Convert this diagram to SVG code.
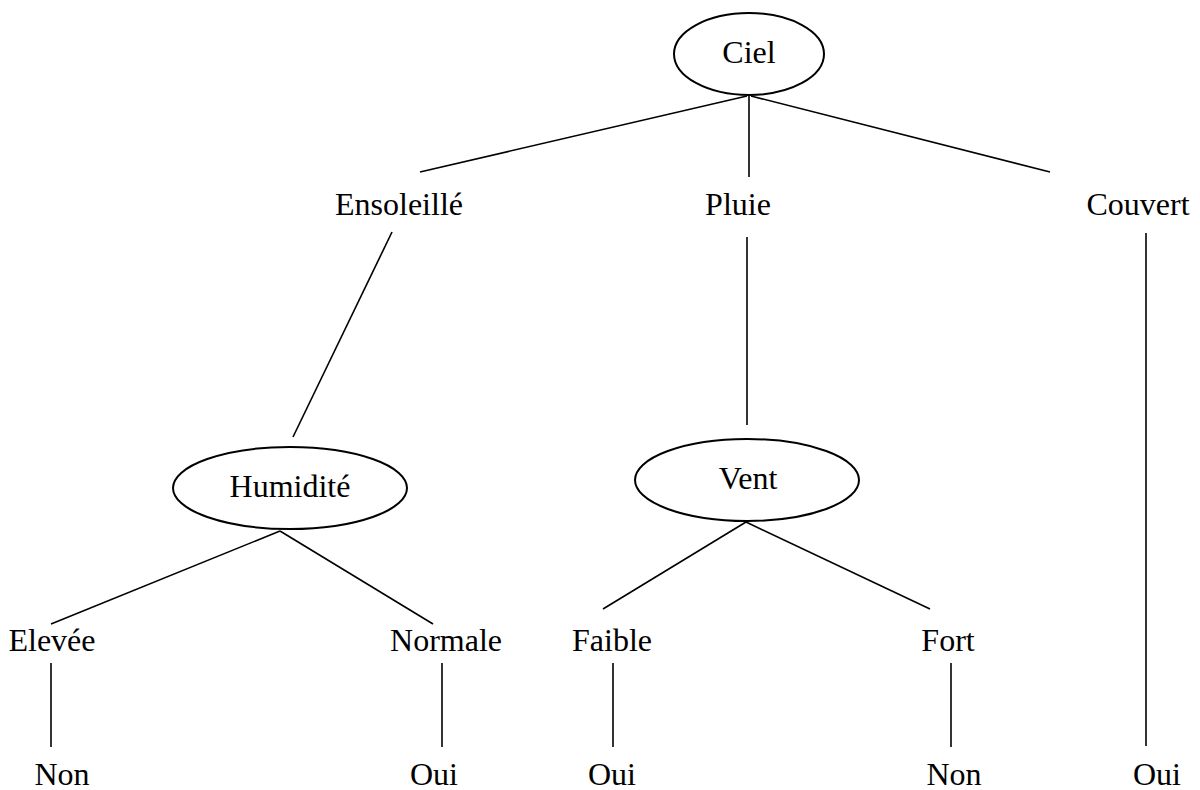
<svg xmlns="http://www.w3.org/2000/svg" width="1200" height="790" viewBox="0 0 1200 790">
<style>
.n ellipse{fill:#fff;stroke:#000;stroke-width:2}
text{font-family:"Liberation Serif","Times New Roman",serif;font-size:32px;fill:#000;text-anchor:middle}
#edges line{stroke:#000;stroke-width:1.6}
</style>
<rect width="1200" height="790" fill="#fff"/>
<g id="edges">
<line x1="747" y1="96" x2="420" y2="172"/>
<line x1="749" y1="96" x2="749" y2="177"/>
<line x1="751" y1="96" x2="1050" y2="172"/>
<line x1="392" y1="232" x2="293" y2="437"/>
<line x1="747" y1="237" x2="747" y2="425"/>
<line x1="1146" y1="233" x2="1146" y2="746"/>
<line x1="280" y1="531" x2="51" y2="624"/>
<line x1="280" y1="531" x2="433" y2="624"/>
<line x1="746" y1="522" x2="603" y2="609"/>
<line x1="746" y1="522" x2="930" y2="609"/>
<line x1="51" y1="663" x2="51" y2="747"/>
<line x1="442" y1="663" x2="442" y2="747"/>
<line x1="613" y1="663" x2="613" y2="747"/>
<line x1="951" y1="663" x2="951" y2="747"/>
</g>
<g id="ciel" class="n"><ellipse cx="749" cy="54" rx="75" ry="41"/><text x="749" y="63">Ciel</text></g>
<g id="ensoleille"><text x="399" y="215">Ensoleillé</text></g>
<g id="pluie"><text x="738" y="215">Pluie</text></g>
<g id="couvert"><text x="1138" y="215">Couvert</text></g>
<g id="humidite" class="n"><ellipse cx="290" cy="488" rx="117" ry="41"/><text x="290" y="497">Humidité</text></g>
<g id="vent" class="n"><ellipse cx="747" cy="480" rx="112" ry="41"/><text x="748" y="489">Vent</text></g>
<g id="elevee"><text x="52" y="651">Elevée</text></g>
<g id="normale"><text x="446" y="651">Normale</text></g>
<g id="faible"><text x="612" y="651">Faible</text></g>
<g id="fort"><text x="948" y="651">Fort</text></g>
<g id="non1"><text x="62" y="785">Non</text></g>
<g id="oui1"><text x="434" y="785">Oui</text></g>
<g id="oui2"><text x="612" y="785">Oui</text></g>
<g id="non2"><text x="954" y="785">Non</text></g>
<g id="oui3"><text x="1157" y="785">Oui</text></g>
</svg>
